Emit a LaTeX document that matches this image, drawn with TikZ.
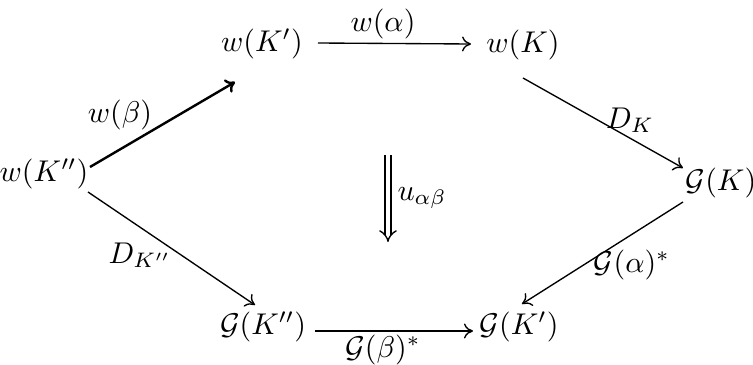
\documentclass[tikz,border=0pt]{standalone}
\usetikzlibrary{arrows.meta}
\begin{document}
\begin{tikzpicture}[x=0.3333pt,y=-0.3333pt,
  obj/.style={inner sep=0pt},
  lbl/.style={inner sep=0pt},
  arr/.style={line width=0.45pt,-{To[length=3pt,width=5pt]}}]
\useasboundingbox (0,0) rectangle (753,365);
% objects
\node[obj] (wKpp) at (44,174) {$w(K'')$};
\node[obj] (wKp)  at (262,44) {$w(K')$};
\node[obj] (wK)   at (523,45) {$w(K)$};
\node[obj] (GK)   at (721,183) {$\mathcal{G}(K)$};
\node[obj] (GKpp) at (263,327) {$\mathcal{G}(K'')$};
\node[obj] (GKp)  at (519,327) {$\mathcal{G}(K')$};
\coordinate (utop) at (388,155);
\coordinate (ubot) at (388,242);
% arrows
\draw[arr,line width=0.8pt] ([shift={(46,-7)}]wKpp.center) -- ([shift={(-27,38)}]wKp.center);
\draw[arr] ([shift={(56,-1)}]wKp.center) -- ([shift={(-52,-1)}]wK.center);
\draw[arr] ([shift={(0,33)}]wK.center) -- ([shift={(-38,-15)}]GK.center);
\draw[arr] ([shift={(-38,19)}]GK.center) -- ([shift={(3,-23)}]GKp.center);
\draw[arr] ([shift={(44,18)}]wKpp.center) -- ([shift={(-8,-22)}]GKpp.center);
\draw[arr] ([shift={(52,4)}]GKpp.center) -- ([shift={(-46,4)}]GKp.center);
\draw[line width=0.45pt,double,double distance=1.6pt,-{Implies[]}] (utop) -- (ubot);
% labels
\node[lbl] (la) at (383,24) {$w(\alpha)$};
\node[lbl] (lb) at (120,115) {$w(\beta)$};
\node[lbl] (lDK) at (630,120) {$D_K$};
\node[lbl] (lDKpp) at (140,255) {$D_{K''}$};
\node[lbl] (lGa) at (632,265) {$\mathcal{G}(\alpha)^*$};
\node[lbl] (lGb) at (383,350) {$\mathcal{G}(\beta)^*$};
\node[lbl] (lu) at (422,198) {$u_{\alpha\beta}$};
\end{tikzpicture}
\end{document}
